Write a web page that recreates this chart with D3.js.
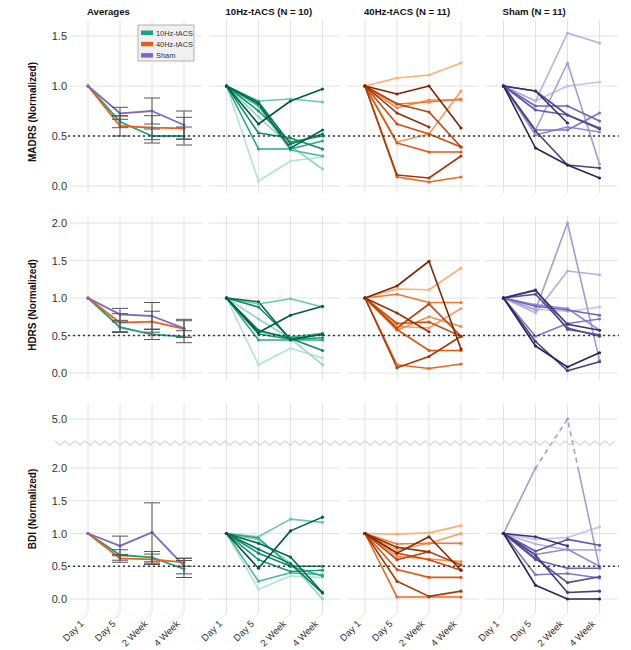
<!DOCTYPE html>
<html><head><meta charset="utf-8">
<script src="https://cdn.jsdelivr.net/npm/d3@7"></script>
<style>
body{margin:0;background:#fff}
text{font-family:"Liberation Sans",Arial,Helvetica,sans-serif}
</style>
</head><body>
<svg id="c" width="631" height="650"></svg>
<script>
// ---------------- DATA ----------------
const timepoints = ["Day 1", "Day 5", "2 Week", "4 Week"];
const measureNames = ["MADRS", "HDRS", "BDI"];
const groupNames = ["10Hz-tACS", "40Hz-tACS", "Sham"];
const columnTitles = ["Averages", "10Hz-tACS (N = 10)", "40Hz-tACS (N = 11)", "Sham (N = 11)"];
const yTicksMADRS = [0, 0.5, 1.0, 1.5];
const yTicksHDRS = [0, 0.5, 1.0, 1.5, 2.0];
const yTicksBDI = [0, 0.5, 1.0, 1.5, 2.0, 5.0];
const responseThreshold = 0.5;

// group means and error (normalized)
const madrsMean10 = [1, 0.643, 0.50, 0.50];
const madrsErr10  = [0, 0.06, 0.07, 0.09];
const madrsMean40 = [1, 0.60, 0.583, 0.577];
const madrsErr40  = [0, 0.10, 0.12, 0.11];
const madrsMeanSham = [1, 0.727, 0.75, 0.61];
const madrsErrSham  = [0, 0.06, 0.13, 0.14];

const hdrsMean10 = [1, 0.61, 0.516, 0.484];
const hdrsErr10  = [0, 0.07, 0.07, 0.08];
const hdrsMean40 = [1, 0.671, 0.684, 0.587];
const hdrsErr40  = [0, 0.12, 0.14, 0.11];
const hdrsMeanSham = [1, 0.782, 0.76, 0.596];
const hdrsErrSham  = [0, 0.08, 0.18, 0.12];

const bdiMean10 = [1, 0.672, 0.636, 0.458];
const bdiErr10  = [0, 0.08, 0.09, 0.13];
const bdiMean40 = [1, 0.621, 0.606, 0.56];
const bdiErr40  = [0, 0.06, 0.08, 0.06];
const bdiMeanSham = [1, 0.81, 1.018, 0.504];
const bdiErrSham  = [0, 0.15, 0.45, 0.12];

// individual participants (index 0 = darkest shade)
const madrs10 = [
  [1, 0.62, 0.85, 0.97], [1, 0.82, 0.38, 0.56], [1, 0.84, 0.42, 0.52], [1, 0.53, 0.48, 0.37],
  [1, 0.75, 0.44, 0.50], [1, 0.37, 0.37, 0.45], [1, 0.80, 0.36, 0.30], [1, 0.85, 0.87, 0.84],
  [1, 0.69, 0.40, 0.17], [1, 0.05, 0.25, 0.29]
];
const hdrs10 = [
  [1, 0.54, 0.77, 0.89], [1, 0.95, 0.44, 0.52], [1, 0.57, 0.46, 0.51], [1, 0.88, 0.46, 0.30],
  [1, 0.52, 0.45, 0.47], [1, 0.44, 0.44, 0.44], [1, 0.55, 0.48, 0.53], [1, 0.92, 0.99, 0.88],
  [1, 0.72, 0.46, 0.11], [1, 0.11, 0.33, 0.20]
];
const bdi10 = [
  [1, 0.47, 1.04, 1.25], [1, 0.85, 0.64, 0.10], [1, 0.76, 0.54, 0.09], [1, 0.70, 0.50, 0.50],
  [1, 0.60, 0.42, 0.44], [1, 0.93, 0.50, 0.35], [1, 0.27, 0.40, 0.37], [1, 0.95, 1.22, 1.17],
  [1, 0.90, 0.55, 0.00], [1, 0.15, 0.35, 0.33]
];
const madrs40 = [
  [1, 0.92, 1.00, 0.58], [1, 0.73, 0.59, null], [1, 0.11, 0.08, 0.30], [1, 0.82, 0.74, 0.39],
  [1, 0.62, 0.52, 0.39], [1, 0.43, 0.34, 0.34], [1, 0.09, 0.04, 0.09], [1, 0.82, 0.84, 0.87],
  [1, 0.78, 0.86, 0.86], [1, 0.44, 0.52, 0.95], [1, 1.08, 1.11, 1.23]
];
const hdrs40 = [
  [1, 1.16, 1.49, 0.32], [1, 0.80, 0.55, null], [1, 0.07, 0.22, 0.49], [1, 0.60, 0.92, 0.49],
  [1, 0.66, 0.68, 0.49], [1, 0.58, 0.30, 0.30], [1, 0.11, 0.06, 0.12], [1, 1.05, 0.94, 0.94],
  [1, 0.57, 0.75, 0.62], [1, 0.62, 0.60, 0.86], [1, 1.12, 1.11, 1.40]
];
const bdi40 = [
  [1, 0.70, 0.95, 0.44], [1, 0.79, 0.72, null], [1, 0.27, 0.04, 0.12], [1, 0.60, 0.72, 0.52],
  [1, 0.70, 0.60, 0.44], [1, 0.45, 0.33, 0.33], [1, 0.03, 0.03, 0.03], [1, 0.84, 0.85, 0.85],
  [1, 0.65, 0.61, 0.57], [1, 0.75, 0.85, 1.00], [1, 0.99, 1.01, 1.12]
];
const madrsSham = [
  [1, 0.38, 0.21, 0.08], [1, 0.95, 0.63, null], [1, 0.55, 0.21, 0.18], [1, 0.95, 0.71, 0.57],
  [1, 0.76, 0.71, 0.58], [1, 0.80, 0.80, 0.65], [1, 0.56, 0.56, 0.73], [1, 0.51, 0.59, 0.54],
  [1, 0.56, 1.23, 0.22], [1, 0.85, 1.53, 1.43], [1, 0.85, 1.00, 1.04]
];
const hdrsSham = [
  [1, 0.36, 0.08, 0.27], [1, 1.10, 0.65, 0.57], [1, 0.42, 0.03, 0.15], [1, 1.05, 0.60, 0.49],
  [1, 1.11, 0.58, 0.51], [1, 0.89, 0.84, 0.77], [1, 0.49, 0.66, 0.72], [1, 0.91, 0.86, 0.57],
  [1, 0.84, 2.00, 0.17], [1, 0.80, 1.36, 1.31], [1, 0.85, 0.82, 0.88]
];
const bdiSham = [
  [1, 0.21, 0.00, 0.00], [1, 0.95, 0.81, null], [1, 0.67, 0.10, 0.12], [1, 0.62, 0.25, 0.34],
  [1, 0.73, 0.91, 0.82], [1, 0.60, 0.47, 0.47], [1, 0.37, 0.39, 0.32], [1, 0.68, 0.76, 0.50],
  [1, 2.00, 5.00, 0.48], [1, 0.84, 0.75, 0.75], [1, 0.91, 0.94, 1.10]
];

// ---------------- STYLE / LAYOUT ----------------
const groupColors = ["#17a37b", "#ee5d17", "#7a69c6"];
const shadeStops = [
  ["#005a3f", "#17a37b", "#aee6d1"],
  ["#7f2704", "#e6550d", "#fdb071"],
  ["#2e2358", "#7164bd", "#c6c0ea"]
];
const panelLefts = [70, 208.5, 347, 485.5];
const panelW = 132;
const rowCfg = [
  {top: 20, bottom: 193, y: d3.scaleLinear().domain([0, 1.5]).range([186, 36]), ticks: yTicksMADRS, titleY: 112,
   means: [madrsMean10, madrsMean40, madrsMeanSham], errs: [madrsErr10, madrsErr40, madrsErrSham],
   indiv: [madrs10, madrs40, madrsSham]},
  {top: 216, bottom: 380, y: d3.scaleLinear().domain([0, 2]).range([373, 223]), ticks: yTicksHDRS, titleY: 305,
   means: [hdrsMean10, hdrsMean40, hdrsMeanSham], errs: [hdrsErr10, hdrsErr40, hdrsErrSham],
   indiv: [hdrs10, hdrs40, hdrsSham]},
  {top: 403, bottom: 613, y: d3.scaleLinear().domain([0, 2, 5]).range([599, 468, 419]), ticks: yTicksBDI, titleY: 509,
   means: [bdiMean10, bdiMean40, bdiMeanSham], errs: [bdiErr10, bdiErr40, bdiErrSham],
   indiv: [bdi10, bdi40, bdiSham], broken: true}
];

const svg = d3.select("#c");
const defs = svg.append("defs");
const breakY = rowCfg[2].y(2);
defs.append("clipPath").attr("id", "clipLow").append("rect")
  .attr("x", 0).attr("y", breakY).attr("width", 631).attr("height", 650 - breakY);
defs.append("clipPath").attr("id", "clipHigh").append("rect")
  .attr("x", 0).attr("y", 0).attr("width", 631).attr("height", breakY);

const gridColor = "#e2e2e2";

rowCfg.forEach((row, r) => {
  const y = row.y;
  const rg = svg.append("g");

  panelLefts.forEach((left, c) => {
    const x = d3.scalePoint().domain(timepoints).range([left + 18, left + 114]);
    const pg = rg.append("g");

    // horizontal grid
    pg.selectAll(".hg").data(row.ticks).join("line")
      .attr("x1", left).attr("x2", left + panelW)
      .attr("y1", d => y(d)).attr("y2", d => y(d))
      .attr("stroke", gridColor).attr("stroke-width", 1);

    // vertical grid
    pg.selectAll(".vg").data(timepoints).join("path")
      .attr("d", d => r === 2
        ? `M${x(d)},${row.top}L${x(d)},${row.bottom}L${x(d) - 6},${row.bottom + 6}`
        : `M${x(d)},${row.top}L${x(d)},${row.bottom}`)
      .attr("fill", "none").attr("stroke", gridColor).attr("stroke-width", 1);

    // x labels (bottom row only)
    if (r === 2) {
      pg.selectAll(".xl").data(timepoints).join("text")
        .attr("transform", d => `translate(${x(d) - 6},${row.bottom + 9}) rotate(-45)`)
        .attr("text-anchor", "end").attr("dy", "0.35em")
        .attr("font-size", 9.5).attr("fill", "#333").text(d => d);
    }

    // column titles
    if (r === 0) {
      svg.append("text").attr("x", x(timepoints[0]) - 1).attr("y", 15)
        .attr("font-size", 9.6).attr("font-weight", "bold").attr("fill", "#111")
        .text(columnTitles[c]);
    }

    const line = d3.line().defined(d => d != null)
      .x((d, i) => x(timepoints[i])).y(d => y(d));

    const drawLines = (target, series, colorFn, width) => {
      const layers = row.broken
        ? [{clip: "url(#clipLow)", dash: null}, {clip: "url(#clipHigh)", dash: "5,4"}]
        : [{clip: null, dash: null}];
      layers.forEach(L => {
        const lg = target.append("g").attr("clip-path", L.clip);
        lg.selectAll("path").data(series).join("path")
          .attr("d", line).attr("fill", "none")
          .attr("stroke", (d, i) => colorFn(i)).attr("stroke-width", width)
          .attr("stroke-linejoin", "round").attr("stroke-dasharray", L.dash);
      });
      series.forEach((s, i) => {
        target.append("g").selectAll("circle")
          .data(s.map((v, j) => ({v, j})).filter(d => d.v != null)).join("circle")
          .attr("cx", d => x(timepoints[d.j])).attr("cy", d => y(d.v)).attr("r", 1.6)
          .attr("fill", colorFn(i));
      });
    };

    if (c === 0) {
      drawLines(pg, row.means, i => groupColors[i], 1.8);
      // error bars
      row.means.forEach((m, gi) => {
        const eb = pg.append("g").attr("stroke", "#555").attr("stroke-width", 1);
        m.forEach((v, j) => {
          const e = row.errs[gi][j];
          if (!e) return;
          const cx = x(timepoints[j]);
          eb.append("line").attr("x1", cx).attr("x2", cx).attr("y1", y(v - e)).attr("y2", y(v + e));
          eb.append("line").attr("x1", cx - 8).attr("x2", cx + 8).attr("y1", y(v - e)).attr("y2", y(v - e));
          eb.append("line").attr("x1", cx - 8).attr("x2", cx + 8).attr("y1", y(v + e)).attr("y2", y(v + e));
        });
      });
      // y axis labels
      const ax = pg.append("g").attr("transform", `translate(${left},0)`)
        .call(d3.axisLeft(y).tickValues(row.ticks).tickFormat(d3.format(".1f")).tickSize(0).tickPadding(3));
      ax.select(".domain").remove();
      ax.selectAll("text").attr("font-size", 11).attr("fill", "#333")
        .style("font-family", '"Liberation Sans",Arial,sans-serif');
    } else {
      const series = row.indiv[c - 1];
      const shades = d3.quantize(d3.piecewise(d3.interpolateRgb, shadeStops[c - 1]), series.length);
      // draw light first so dark on top
      const order = series.map((s, i) => i).reverse();
      const ordered = order.map(i => series[i]);
      drawLines(pg, ordered, k => shades[order[k]], 1.6);
    }
  });

  // response threshold dotted line
  rg.append("line").attr("x1", 68).attr("x2", 619)
    .attr("y1", y(responseThreshold)).attr("y2", y(responseThreshold))
    .attr("stroke", "#333").attr("stroke-width", 1.6).attr("stroke-dasharray", "2,3");

  // y title
  svg.append("text").attr("transform", `translate(36,${row.titleY}) rotate(-90)`)
    .attr("text-anchor", "middle").attr("font-size", 10).attr("font-weight", "bold").attr("fill", "#111")
    .text(`${measureNames[r]} (Normalized)`);

  // axis break zigzag
  if (row.broken) {
    const zy = 443, pts = [];
    for (let xx = 55, k = 0; xx <= 619; xx += 5, k++) pts.push([xx, zy + (k % 2 ? 2.2 : -2.2)]);
    rg.append("path").attr("d", d3.line()(pts)).attr("fill", "none")
      .attr("stroke", "#c4c4c4").attr("stroke-width", 1);
  }
});

// legend
const lg = svg.append("g").attr("transform", "translate(138,25)");
lg.append("rect").attr("width", 56).attr("height", 36).attr("fill", "#f0f0f0").attr("stroke", "#a0a0a0").attr("stroke-width", 0.8);
groupNames.forEach((g, i) => {
  lg.append("rect").attr("x", 3).attr("y", 5.5 + i * 11.3).attr("width", 12).attr("height", 4.5).attr("fill", groupColors[i]);
  lg.append("text").attr("x", 18).attr("y", 8 + i * 11.3).attr("dy", "0.35em")
    .attr("font-size", 7.4).attr("fill", "#333").text(g);
});
</script>
</body></html>
